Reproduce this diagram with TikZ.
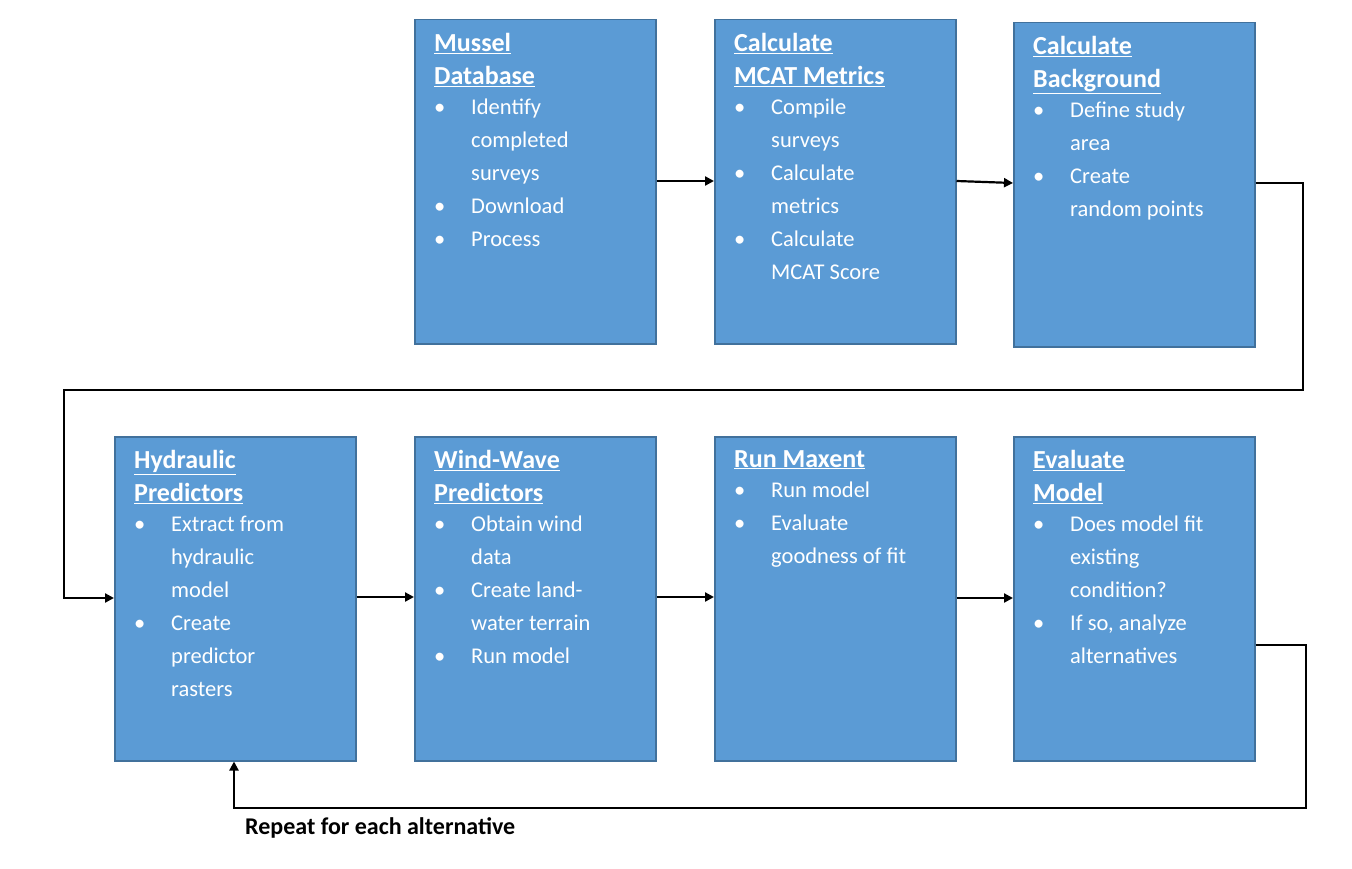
\documentclass[tikz,border=0pt]{standalone}
\usepackage{fontspec}
\setmainfont{Carlito}
\usetikzlibrary{arrows.meta}
\definecolor{boxfill}{HTML}{5B9BD5}
\definecolor{boxline}{HTML}{41719C}
\newcommand{\ttl}[1]{{\fontsize{26}{39}\selectfont\bfseries\underline{#1}}}
\newcommand{\bl}{\makebox[37pt][l]{•}}
\newcommand{\ct}{\hspace*{37pt}}
\begin{document}
\begin{tikzpicture}[x=1pt,y=-1pt,
  box/.style={draw=boxline,line width=1.5pt,fill=boxfill},
  txt/.style={anchor=north west,align=left,text=white,inner sep=0pt,font=\fontsize{22.5}{33}\selectfont},
  con/.style={line width=2.2pt,-{Triangle[length=9pt,width=9pt]}}]
\useasboundingbox (0,0) rectangle (1352,869);
\newcommand{\bx}[5]{\node[box,minimum width=241pt,minimum height=324pt,anchor=north west,inner sep=0pt] (#1) at (#2,#3) {};
  \node[txt] (#1t) at (#2+20,#3+14) {#4\\[-3pt]#5};}
\bx{a}{414}{19}{\ttl{Mussel}\\\ttl{Database}}{\bl Identify\\\ct completed\\\ct surveys\\\bl Download\\\bl Process}
\bx{b}{714}{19}{\ttl{Calculate}\\\ttl{MCAT Metrics}}{\bl Compile\\\ct surveys\\\bl Calculate\\\ct metrics\\\bl Calculate\\\ct MCAT Score}
\bx{c}{1013}{22}{\ttl{Calculate}\\\ttl{Background}}{\bl Define study\\\ct area\\\bl Create\\\ct random points}
\bx{d}{114}{436}{\ttl{Hydraulic}\\\ttl{Predictors}}{\bl Extract from\\\ct hydraulic\\\ct model\\\bl Create\\\ct predictor\\\ct rasters}
\bx{e}{414}{436}{\ttl{Wind-Wave}\\\ttl{Predictors}}{\bl Obtain wind\\\ct data\\\bl Create land-\\\ct water terrain\\\bl Run model}
\node[box,minimum width=241pt,minimum height=324pt,anchor=north west,inner sep=0pt] (f) at (714,436) {};
\node[txt] (ft) at (734,450) {\ttl{Run Maxent}\\[-3pt]\bl Run model\\\bl Evaluate\\\ct goodness of fit};
\bx{g}{1013}{436}{\ttl{Evaluate}\\\ttl{Model}}{\bl Does model fit\\\ct existing\\\ct condition?\\\bl If so, analyze\\\ct alternatives}
\coordinate (c1) at (1303,183); \coordinate (c2) at (1303,390);
\coordinate (c3) at (64,390); \coordinate (c4) at (64,598);
\coordinate (g1) at (1306,645); \coordinate (g2) at (1306,808); \coordinate (g3) at (234,808);
\draw[con] (a.east|-0,181) -- (b.west|-0,181);
\draw[con] (b.east|-0,181) -- (c.west|-0,183);
\draw[con] (c.east|-c1) -- (c1) -- (c2) -- (c3) -- (c4) -- (d.west|-c4);
\draw[con] (d.east|-0,597) -- (e.west|-0,597);
\draw[con] (e.east|-0,597) -- (f.west|-0,597);
\draw[con] (f.east|-0,598) -- (g.west|-0,598);
\draw[con] (g.east|-g1) -- (g1) -- (g2) -- (g3) -- (d.south-|g3);
\node[anchor=west,inner sep=0pt,font=\fontsize{24}{30}\selectfont\bfseries] (lbl) at (245,828) {Repeat for each alternative};
\end{tikzpicture}
\end{document}
